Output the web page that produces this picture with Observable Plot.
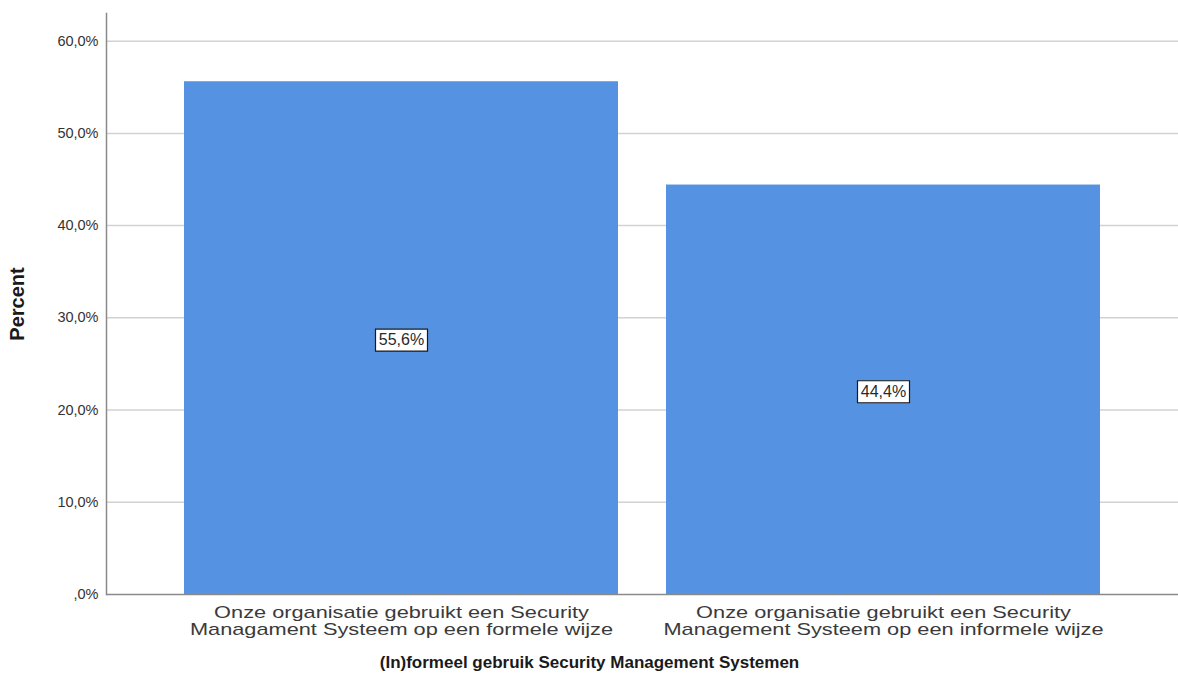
<!DOCTYPE html>
<html>
<head>
<meta charset="utf-8">
<script src="https://cdn.jsdelivr.net/npm/d3@7"></script>
<script src="https://cdn.jsdelivr.net/npm/@observablehq/plot@0.6"></script>
<style>
  html, body { margin: 0; padding: 0; background: #ffffff; }
</style>
</head>
<body>
<div id="chart"></div>
<script>
const categories = [
  "Onze organisatie gebruikt een Security Managament Systeem op een formele wijze",
  "Onze organisatie gebruikt een Security Management Systeem op een informele wijze"
];
const tickLabels = [
  "Onze organisatie gebruikt een Security\nManagament Systeem op een formele wijze",
  "Onze organisatie gebruikt een Security\nManagement Systeem op een informele wijze"
];
const percents = [55.6, 44.4];
const valueLabels = ["55,6%", "44,4%"];
const yTicks = [0, 10, 20, 30, 40, 50, 60];
const yTickLabels = [",0%", "10,0%", "20,0%", "30,0%", "40,0%", "50,0%", "60,0%"];
const xTitle = "(In)formeel gebruik Security Management Systemen";
const yTitle = "Percent";

const data = categories.map((c, i) => ({cat: c, pct: percents[i], label: valueLabels[i]}));

const boxSymbol = {
  draw(context) {
    context.rect(-26, -11, 52, 22);
  }
};

const chart = Plot.plot({
  width: 1178,
  height: 697,
  marginLeft: 106,
  marginRight: 0,
  marginTop: 13,
  marginBottom: 103,
  style: {fontFamily: "Arial, 'Liberation Sans', sans-serif", background: "#ffffff", color: "#333333"},
  x: {domain: categories, paddingInner: 0.1, paddingOuter: 0.16},
  y: {domain: [0, 63]},
  marks: [
    Plot.gridY(yTicks.filter(d => d > 0), {stroke: "#d2d2d2", strokeOpacity: 1, strokeWidth: 1.5}),
    Plot.barY(data, {x: "cat", y: "pct", fill: "#5592e2"}),
    Plot.ruleY([0], {stroke: "#8a8a8a", strokeWidth: 1.5}),
    Plot.frame({anchor: "left", stroke: "#8a8a8a", strokeWidth: 1.5}),
    Plot.axisY({
      ticks: yTicks, tickSize: 0, tickPadding: 8, fontSize: 14.5, label: null,
      tickFormat: d => yTickLabels[yTicks.indexOf(d)], fill: "#333333"
    }),
    Plot.axisX({
      tickSize: 0, tickPadding: 11, fontSize: 17, lineHeight: 1, label: null,
      tickFormat: d => tickLabels[categories.indexOf(d)], fill: "#3a3a3a"
    }),
    Plot.dot(data, {x: "cat", y: d => d.pct / 2, dy: 2, symbol: boxSymbol, fill: "#ffffff", stroke: "#1a1a1a", strokeWidth: 1.2}),
    Plot.text(data, {x: "cat", y: d => d.pct / 2, dy: 2, text: "label", fontSize: 16, fill: "#2a2a2a"}),
    Plot.text([xTitle], {frameAnchor: "bottom", text: d => d, dx: -53, dy: 73, fontSize: 17, fontWeight: "bold", fill: "#1a1a1a"}),
    Plot.text([yTitle], {frameAnchor: "left", textAnchor: "middle", lineAnchor: "middle", text: d => d, rotate: -90, dx: -89, fontSize: 20, fontWeight: "bold", fill: "#1a1a1a"})
  ]
});

// stretch the category labels horizontally, as in the reference picture
d3.select(chart).selectAll('g[aria-label="x-axis tick label"] text').each(function() {
  const t = this.getAttribute("transform") || "";
  this.setAttribute("transform", t + " scale(1.28,1)");
});

document.getElementById("chart").appendChild(chart);
</script>
</body>
</html>
